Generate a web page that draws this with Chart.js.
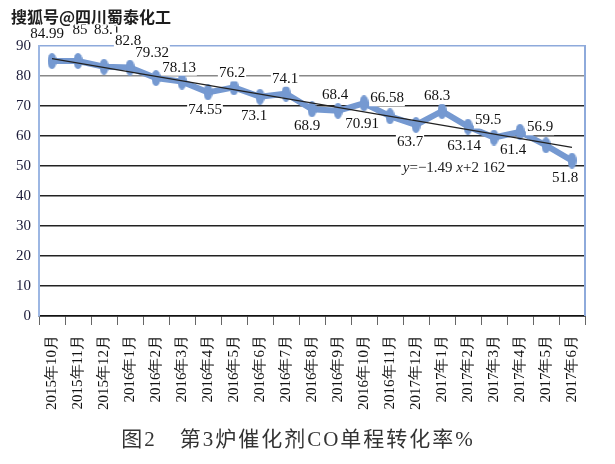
<!DOCTYPE html>
<html><head><meta charset="utf-8">
<script src="https://cdn.jsdelivr.net/npm/chart.js@4/dist/chart.umd.min.js"></script>
<style>html,body{margin:0;padding:0;background:#fff}#wrap{width:615px;height:464px;position:relative}</style>
</head><body><div id="wrap"><canvas id="c" width="615" height="464"></canvas></div>
<script>
const categories = ['2015年10月','2015年11月','2015年12月','2016年1月','2016年2月','2016年3月','2016年4月','2016年5月','2016年6月','2016年7月','2016年8月','2016年9月','2016年10月','2016年11月','2017年12月','2017年1月','2017年2月','2017年3月','2017年4月','2017年5月','2017年6月'];
const conversion = [84.99,85,83.1,82.8,79.32,78.13,74.55,76.2,73.1,74.1,68.9,68.4,70.91,66.58,63.7,68.3,63.14,59.5,61.4,56.9,51.8];
const valueLabels = ['84.99','85','83.1','82.8','79.32','78.13','74.55','76.2','73.1','74.1','68.9','68.4','70.91','66.58','63.7','68.3','63.14','59.5','61.4','56.9','51.8'];
const yTicks = [0,10,20,30,40,50,60,70,80,90];
const trendStart = 85.8;
const trendEnd = 56.2;
const watermark = '搜狐号@四川蜀泰化工';
const caption = '图2　第3炉催化剂CO单程转化率%';

const trendData = categories.map((c,i)=> i===0 ? trendStart : (i===categories.length-1 ? trendEnd : null));

// style-only: label offsets (px) relative to each point
const labelOffsets = [[-5,-27],[2,-31],[3,-37],[-2,-27],[-4,-25],[-3,-14],[-3,18],[-2,-14],[-6,19],[-1,-15],[-5,17],[-3,-16],[-2,21],[-3,-18],[-6,17],[-5,-15],[-4,19],[-6,-17],[-7,18],[-6,-18],[-7,17]];

function ellipseMarker(w,h,color){
  const c=document.createElement('canvas');c.width=w;c.height=h;
  const g=c.getContext('2d');g.fillStyle=color;g.beginPath();
  g.ellipse(w/2,h/2,w/2,h/2,0,0,Math.PI*2);g.fill();return c;
}
const blue='#7599d1';
const marker=ellipseMarker(9,16,blue);

const serif="Liberation Serif, Tinos, serif";

const decor={
  id:'decor',
  afterDatasetsDraw(chart){
    const ctx=chart.ctx, meta=chart.getDatasetMeta(0), ca=chart.chartArea;
    const xs=chart.scales.x, ys=chart.scales.y;
    ctx.save();
    ctx.strokeStyle='#8eaadb';ctx.lineWidth=2;
    ctx.beginPath();ctx.moveTo(ca.right,ca.top-1);ctx.lineTo(ca.right,ca.bottom);ctx.stroke();
    ctx.font='15px '+serif;ctx.textAlign='center';ctx.textBaseline='middle';
    meta.data.forEach((p,i)=>{
      const x=p.x+labelOffsets[i][0], y=p.y+labelOffsets[i][1];
      const w=ctx.measureText(valueLabels[i]).width;
      ctx.fillStyle='#fff';ctx.fillRect(x-w/2-1,y-8,w+2,16);
      ctx.fillStyle='#111';ctx.fillText(valueLabels[i],x,y);
    });
    const ex=xs.getPixelForValue(15)+12, ey=ys.getPixelForValue(49.4);
    const parts=[['y','italic 15px '+serif],['=−1.49 ','15px '+serif],['x','italic 15px '+serif],['+2 162','15px '+serif]];
    let tw=0;parts.forEach(pt=>{ctx.font=pt[1];tw+=ctx.measureText(pt[0]).width;});
    let sx=ex-tw/2;
    ctx.fillStyle='#fff';ctx.fillRect(sx-2,ey-8,tw+4,16);
    ctx.textAlign='left';ctx.fillStyle='#222';
    parts.forEach(pt=>{ctx.font=pt[1];ctx.fillText(pt[0],sx,ey);sx+=ctx.measureText(pt[0]).width;});
    ctx.font='bold 16px "Noto Sans CJK SC",sans-serif';ctx.textAlign='left';ctx.textBaseline='alphabetic';
    ctx.lineWidth=3;ctx.strokeStyle='#fff';ctx.strokeText(watermark,11,23);
    ctx.fillStyle='#1e1e1e';ctx.fillText(watermark,11,23);
    ctx.font='21px '+serif+',"Noto Sans CJK SC"';ctx.textAlign='center';ctx.fillStyle='#333';
    ctx.letterSpacing='2px';
    ctx.fillText(caption,298,446);
    ctx.restore();
  }
};

new Chart(document.getElementById('c'),{
  type:'line',
  data:{labels:categories,datasets:[
    {data:conversion,borderColor:blue,backgroundColor:blue,borderWidth:6,pointStyle:marker,pointRadius:8,order:1,tension:0},
    {data:trendData,borderColor:'#222',borderWidth:1.3,pointRadius:0,spanGaps:true,order:0}
  ]},
  options:{
    responsive:false,devicePixelRatio:1,animation:false,
    layout:{padding:{top:46,left:0,right:30,bottom:44}},
    plugins:{legend:{display:false},tooltip:{enabled:false}},
    scales:{
      x:{offset:true,
        grid:{offset:true,drawOnChartArea:false,drawTicks:true,tickLength:9,color:'#666',lineWidth:1},
        border:{color:'#111',width:1.5},
        ticks:{autoSkip:false,minRotation:90,maxRotation:90,padding:10,color:'#111',font:{family:serif,size:15}},
        afterFit(s){s.height=104;}
      },
      y:{min:0,max:90,
        afterBuildTicks(s){s.ticks=yTicks.map(v=>({value:v}));},
        grid:{drawTicks:false,lineWidth:1.5,color:(c)=>c.tick&&c.tick.value===90?'#8eaadb':(c.tick&&c.tick.value===80?'#888':'#222')},
        border:{color:'#9db7e3',width:2},
        ticks:{padding:8,color:'#1c1c3a',font:{family:serif,size:15}},
        afterFit(s){s.width=39;}
      }
    }
  },
  plugins:[decor]
});
</script></body></html>
